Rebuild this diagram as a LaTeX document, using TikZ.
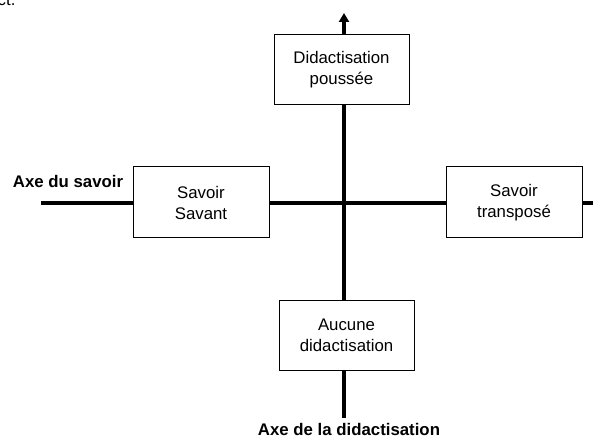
\documentclass[tikz,border=0pt]{standalone}
\usepackage{fontspec}
\setmainfont{Liberation Sans}
\usetikzlibrary{arrows.meta}
\begin{document}
\begin{tikzpicture}[x=1pt,y=1pt,
  axisline/.style={line width=4pt},
  boxnode/.style={draw=black, line width=1pt, fill=white, minimum width=135pt, minimum height=70pt, align=center, inner sep=0pt, font=\fontsize{16.8}{21}\selectfont},
  axislabel/.style={font=\fontsize{16.8}{21}\selectfont\bfseries, inner sep=0pt}]
\useasboundingbox (0,0) rectangle (593,439);
% named points of the axes
\coordinate (O) at (344,236);
\coordinate (tip) at (344,426);
\coordinate (vbot) at (344,21);
\coordinate (hleft) at (41,236);
\coordinate (hright) at (600,236);
% boxes
\node[boxnode] (pousse) at (341.5,369) {Didactisation\\poussée};
\node[boxnode] (aucune) at (346.5,103.5) {Aucune\\didactisation};
\node[boxnode, minimum width=136pt, minimum height=71pt] (savant) at (201,236.5) {Savoir\\Savant};
\node[boxnode, minimum width=136pt, minimum height=71pt] (transpose) at (514,236.5) {Savoir\\transposé};
% labels
\node[axislabel] (lsavoir) at (68,258) {Axe du savoir};
\node[axislabel] (ldidac) at (349,9.5) {Axe de la didactisation};
\node[anchor=base west, inner sep=0pt, font=\fontsize{16.8}{21}\selectfont] (frag) at (-2.5,433) {ct.};
% axes
\draw[axisline] (hleft) -- (savant.west |- hleft);
\draw[axisline] (savant.east |- O) -- (transpose.west |- O);
\draw[axisline] (transpose.east |- O) -- (hright);
\draw[axisline] (vbot) -- (aucune.south -| O);
\draw[axisline] (aucune.north -| O) -- (pousse.south -| O);
\draw[axisline, -{Triangle[width=10pt,length=9pt]}] (pousse.north -| O) -- (tip);
\end{tikzpicture}
\end{document}
